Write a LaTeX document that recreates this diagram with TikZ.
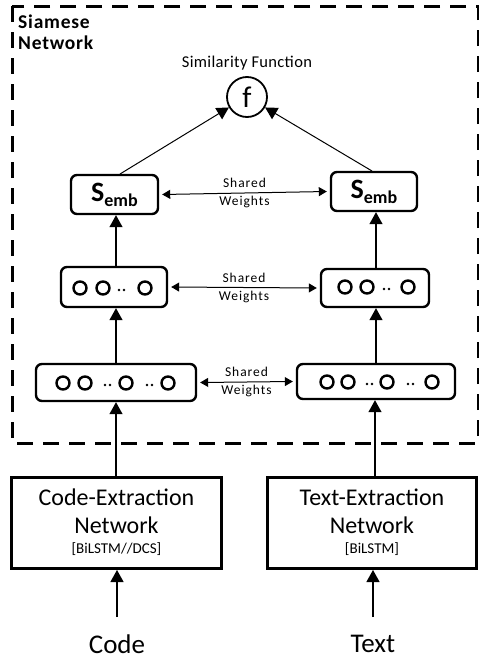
\documentclass[tikz,border=0pt]{standalone}
\usepackage{fontspec}
\setmainfont{Carlito}
\usetikzlibrary{arrows.meta,calc}
\begin{document}
\begin{tikzpicture}[x=1pt,y=-1pt,
  box/.style={draw,line width=2.4pt,rounded corners=6pt,inner sep=0pt},
  exbox/.style={draw,line width=3pt,inner sep=0pt,align=center},
  arr/.style={line width=1.2pt,-{Triangle[length=12pt,width=13pt]}},
  swarr/.style={line width=1pt,{Triangle[length=8pt,width=9pt]}-{Triangle[length=8pt,width=9pt]}},
  swlab/.style={font=\fontsize{13.5}{17}\selectfont\addfontfeatures{LetterSpace=7},align=center,inner sep=0pt},
  neuron/.style={circle,draw,line width=2.4pt,minimum size=13pt,inner sep=0pt},
  dotn/.style={circle,fill,minimum size=2.6pt,inner sep=0pt}
]
\useasboundingbox (0,0) rectangle (479,659);
% dashed frame
\draw[line width=3pt,dash pattern=on 16pt off 10pt] (12,6) rectangle (478,443);
\node[anchor=north west,font=\fontsize{19.5}{21}\selectfont\bfseries\addfontfeatures{LetterSpace=4},align=left,inner sep=0pt] (title) at (18,15) {Siamese\\Network};

% similarity
\node[circle,draw,line width=1.8pt,minimum size=40pt,inner sep=0pt,font=\fontsize{30}{30}\selectfont] (f) at (247,97) {f};
\node[font=\fontsize{16.5}{18}\selectfont\addfontfeatures{LetterSpace=2},inner sep=0pt] (simlab) at (247,63) {Similarity Function};

% S_emb boxes
\node[box,minimum width=87pt,minimum height=39pt,font=\bfseries] (semL) at (114.5,194.5) {\fontsize{28}{28}\selectfont S\raisebox{-5pt}{\fontsize{18}{18}\selectfont emb}};
\node[box,minimum width=86pt,minimum height=39pt,font=\bfseries] (semR) at (374,191.5) {\fontsize{28}{28}\selectfont S\raisebox{-5pt}{\fontsize{18}{18}\selectfont emb}};

% row 2
\node[box,minimum width=106pt,minimum height=40pt] (r2L) at (114,287) {};
\node[box,minimum width=108pt,minimum height=38pt] (r2R) at (375,288) {};
% row 3
\node[box,minimum width=160pt,minimum height=37pt] (r3L) at (116,382.5) {};
\node[box,minimum width=158pt,minimum height=35pt] (r3R) at (376,381.5) {};

% neurons row 2 left
\node[neuron] (a1) at (80,288) {};
\node[neuron] (a2) at (103,288) {};
\node[dotn] (a3) at (119,290) {};
\node[dotn] (a4) at (124,290) {};
\node[neuron] (a5) at (145,288) {};
% row 2 right
\node[neuron] (b1) at (345,287) {};
\node[neuron] (b2) at (367,287) {};
\node[dotn] (b3) at (384,289) {};
\node[dotn] (b4) at (389,289) {};
\node[neuron] (b5) at (408,287) {};
% row 3 left
\node[neuron] (c1) at (63,383) {};
\node[neuron] (c2) at (85,383) {};
\node[dotn] (c3) at (105,385) {};
\node[dotn] (c4) at (110,385) {};
\node[neuron] (c5) at (126,383) {};
\node[dotn] (c6) at (147,385) {};
\node[dotn] (c7) at (152,385) {};
\node[neuron] (c8) at (168,383) {};
% row 3 right
\node[neuron] (d1) at (327,382) {};
\node[neuron] (d2) at (348,382) {};
\node[dotn] (d3) at (367,384) {};
\node[dotn] (d4) at (372,384) {};
\node[neuron] (d5) at (387,382) {};
\node[dotn] (d6) at (408,384) {};
\node[dotn] (d7) at (413,384) {};
\node[neuron] (d8) at (432,382) {};

% extraction boxes
\node[exbox,minimum width=210pt,minimum height=91pt] (exL) at (116.5,523) {};
\node[exbox,minimum width=209pt,minimum height=91pt] (exR) at (372,523) {};
\node[font=\fontsize{24}{24}\selectfont,inner sep=0pt] (exL1) at (116.5,497) {Code-Extraction};
\node[font=\fontsize{24}{24}\selectfont,inner sep=0pt] (exL2) at (116.5,525) {Network};
\node[font=\fontsize{15}{15}\selectfont,inner sep=0pt] (exL3) at (116.5,549) {[BiLSTM//DCS]};
\node[font=\fontsize{24}{24}\selectfont,inner sep=0pt] (exR1) at (372,497) {Text-Extraction};
\node[font=\fontsize{24}{24}\selectfont,inner sep=0pt] (exR2) at (372,525) {Network};
\node[font=\fontsize{15}{15}\selectfont,inner sep=0pt] (exR3) at (372,549) {[BiLSTM]};

% inputs
\node[font=\fontsize{27}{27}\selectfont,inner sep=0pt] (code) at (117,644) {Code};
\node[font=\fontsize{27}{27}\selectfont,inner sep=0pt] (text) at (373,644) {Text};
\coordinate (codetop) at (117,617);
\coordinate (texttop) at (373,617);

% vertical arrows
\draw[arr] (codetop) -- (codetop |- exL.south);
\draw[arr] (texttop) -- (texttop |- exR.south);
\draw[arr] (exL.north -| 116,0) -- (116,0 |- r3L.south);
\draw[arr] (exR.north -| 375,0) -- (375,0 |- r3R.south);
\draw[arr] (r3L.north -| 116,0) -- (116,0 |- r2L.south);
\draw[arr] (r3R.north -| 376,0) -- (376,0 |- r2R.south);
\draw[arr] (r2L.north -| 116,0) -- (116,0 |- semL.south);
\draw[arr] (r2R.north -| 376,0) -- (376,0 |- semR.south);

% to f
\draw[arr,line width=1pt] (120,174) -- (f.210);
\draw[arr,line width=1pt] (372,171) -- (f.330);

% shared weights
\draw[swarr] (semL.east) ++(3,0) coordinate (s1a) -- ($(semR.west)+(-3,0)$) coordinate (s1b);
\node[swlab] (sw1) at ($(s1a)!0.5!(s1b)$) {Shared\\[1pt]Weights};
\draw[swarr] ($(r2L.east)+(3,0)$) coordinate (s2a) -- ($(r2R.west)+(-3,0)$) coordinate (s2b);
\node[swlab] (sw2) at ($(s2a)!0.5!(s2b)$) {Shared\\[1pt]Weights};
\draw[swarr] ($(r3L.east)+(3,0)$) coordinate (s3a) -- ($(r3R.west)+(-3,0)$) coordinate (s3b);
\node[swlab] (sw3) at ($(s3a)!0.5!(s3b)$) {Shared\\[1pt]Weights};
\end{tikzpicture}
\end{document}
